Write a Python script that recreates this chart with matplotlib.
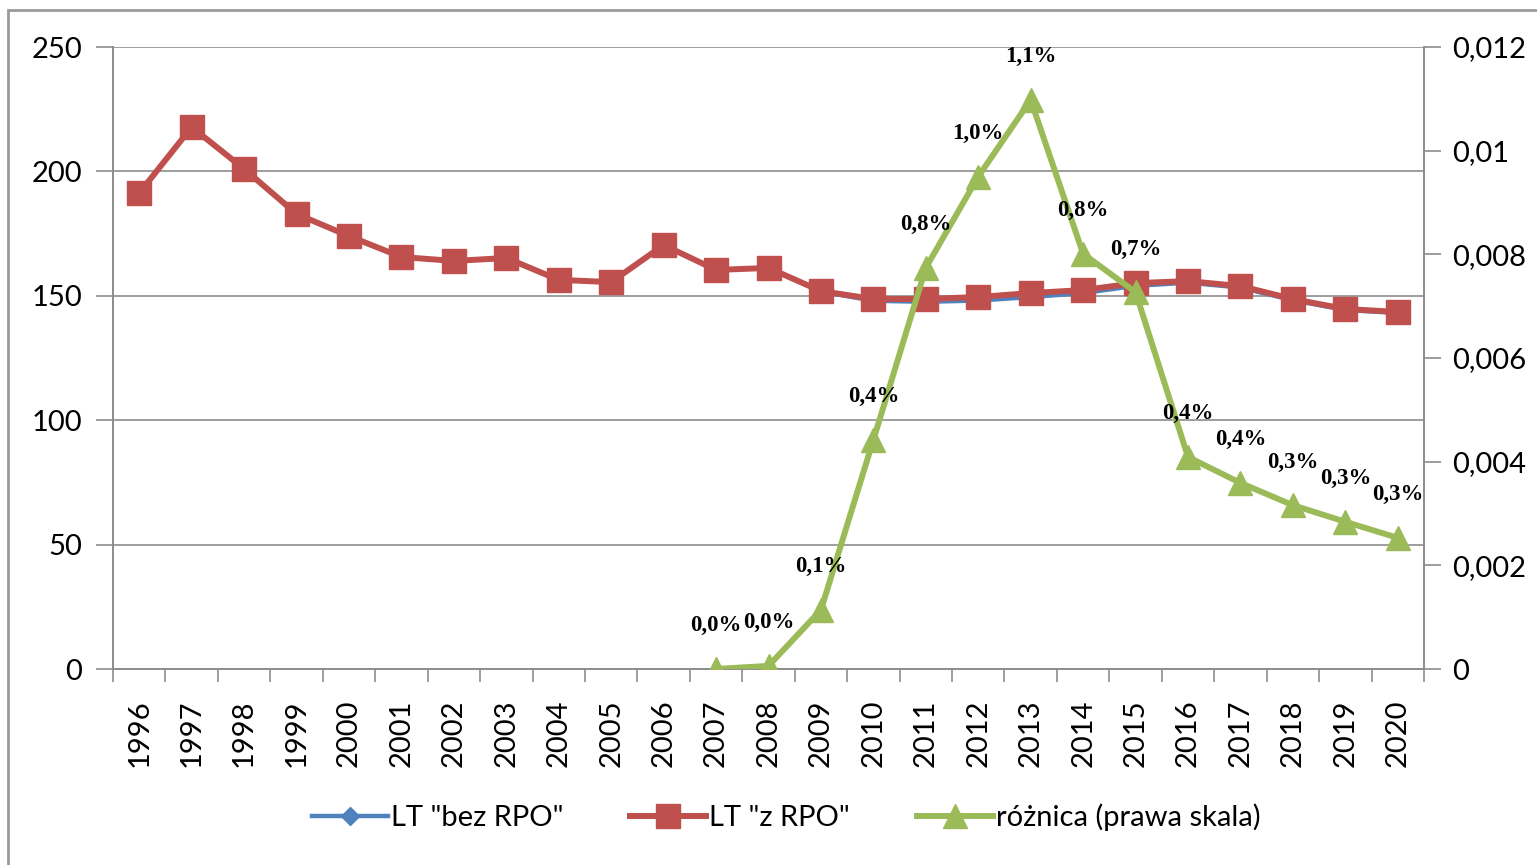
import matplotlib
matplotlib.use("Agg")
import matplotlib.pyplot as plt
from matplotlib.patches import Rectangle
from matplotlib.lines import Line2D
import numpy as np

# ---- data ----
years = list(range(1996, 2021))
lt_z_rpo = [191.3, 217.8, 201.0, 182.9, 174.0, 165.6, 164.0, 165.2, 156.4, 155.5,
            170.4, 160.4, 161.2, 151.9, 148.7, 148.7, 149.5, 151.1, 152.3, 155.1,
            155.9, 153.9, 148.7, 144.7, 143.5]
lt_bez_rpo = [191.3, 217.8, 201.0, 182.9, 174.0, 165.6, 164.0, 165.2, 156.4, 155.5,
              170.4, 160.4, 161.2, 151.7, 148.0, 147.6, 148.1, 149.5, 151.1, 154.0,
              155.3, 153.3, 148.2, 144.3, 143.1]
diff_years = list(range(2007, 2021))
diff_vals = [0.0000, 0.00006, 0.00114, 0.00442, 0.00774, 0.00950, 0.01098,
             0.00801, 0.00727, 0.00409, 0.00359, 0.00316, 0.00284, 0.00253]
diff_labels = ["0,0%", "0,0%", "0,1%", "0,4%", "0,8%", "1,0%", "1,1%",
               "0,8%", "0,7%", "0,4%", "0,4%", "0,3%", "0,3%", "0,3%"]
right_ticks = [0, 0.002, 0.004, 0.006, 0.008, 0.01, 0.012]
right_ticklabels = ["0", "0,002", "0,004", "0,006", "0,008", "0,01", "0,012"]

BLUE, RED, GREEN = "#4F81BD", "#C0504D", "#9BBB59"
GRAY = "#8c8c8c"
FONT = "Lato"

W, H = 1537, 865
fig = plt.figure(figsize=(W / 100, H / 100), dpi=100)

# outer chart frame
fig.patches.append(Rectangle((8 / W, -0.1), 1.2, (H - 10) / H + 0.1,
                             transform=fig.transFigure, fill=False,
                             edgecolor="#9a9a9a", linewidth=2))

ax = fig.add_axes([113 / W, 1 - 669 / H, (1424 - 113) / W, (669 - 47) / H])
x = np.arange(len(years))
xd = np.array([years.index(y) for y in diff_years])

ax.plot(x, lt_bez_rpo, color=BLUE, lw=3.2, marker="D", ms=6, zorder=3)
ax.plot(x, lt_z_rpo, color=RED, lw=4.3, marker="s", ms=17, zorder=4)

ax.set_xlim(-0.5, len(years) - 0.5)
ax.set_ylim(0, 250)
ax.set_yticks(range(0, 251, 50))
ax.set_xticks(x)
ax.set_xticklabels([str(y) for y in years], rotation=90, fontfamily=FONT, fontsize=21)
ax.set_xticks(np.arange(-0.5, len(years)), minor=True)
ax.tick_params(axis="x", which="major", length=0, pad=22)
ax.tick_params(axis="x", which="minor", length=9, color=GRAY, width=1.2)
ax.tick_params(axis="y", length=12, color=GRAY, width=1.2, pad=10)
for t in ax.get_yticklabels():
    t.set_fontfamily(FONT)
    t.set_fontsize(21)
ax.yaxis.grid(True, color=GRAY, lw=1.2)
ax.set_axisbelow(True)
ax.spines["top"].set_visible(False)
for s in ["left", "bottom", "right"]:
    ax.spines[s].set_color(GRAY)
    ax.spines[s].set_linewidth(1.2)

ax2 = ax.twinx()
ax2.plot(xd, diff_vals, color=GREEN, lw=4.3, marker="^", ms=17, zorder=5)
ax2.set_ylim(0, 0.012)
ax2.set_yticks(right_ticks)
ax2.set_yticklabels(right_ticklabels, fontfamily=FONT, fontsize=21)
ax2.tick_params(axis="y", length=12, color=GRAY, width=1.2, pad=8)
ax2.spines["top"].set_visible(False)
for s in ["left", "bottom", "right"]:
    ax2.spines[s].set_color(GRAY)
    ax2.spines[s].set_linewidth(1.2)

for xi, v, lab in zip(xd, diff_vals, diff_labels):
    ax2.annotate(lab, (xi, v), xytext=(0, 31), textcoords="offset points",
                 ha="center", va="center", fontfamily="Liberation Serif",
                 fontweight="bold", fontsize=16.5, color="black", zorder=6)

handles = [
    Line2D([], [], color=BLUE, lw=3.2, marker="D", ms=9),
    Line2D([], [], color=RED, lw=4.3, marker="s", ms=17),
    Line2D([], [], color=GREEN, lw=4.3, marker="^", ms=17),
]
labels = ['LT "bez RPO"', 'LT "z RPO"', "różnica (prawa skala)"]
fig.legend(handles, labels, loc="center", bbox_to_anchor=(786 / W, 1 - 817 / H),
           ncol=3, frameon=False, prop={"family": FONT, "size": 21},
           handlelength=2.6, handletextpad=0.1, columnspacing=2.3)

fig.savefig("out.png", dpi=100)
